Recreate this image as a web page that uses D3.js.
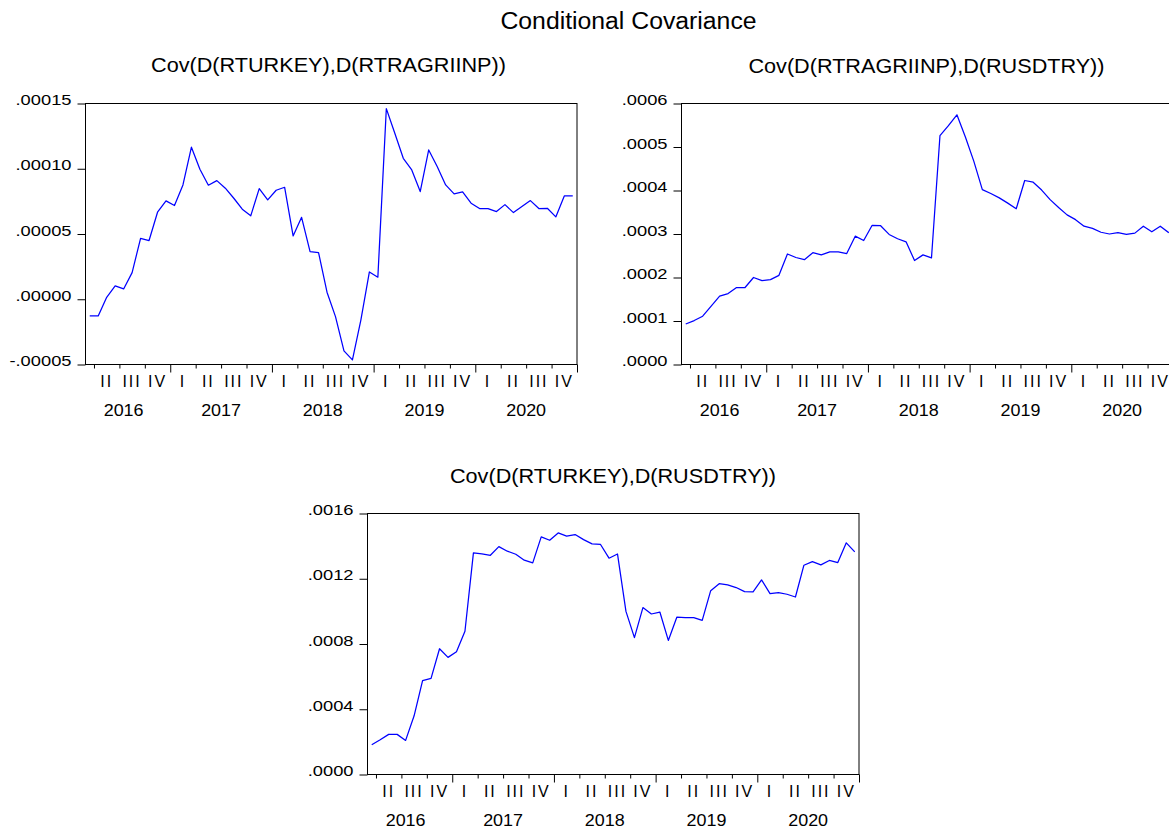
<!DOCTYPE html>
<html>
<head>
<meta charset="utf-8">
<script src="https://cdn.jsdelivr.net/npm/d3@7"></script>
<style>
  body { margin: 0; background: #fff; }
  svg { display: block; font-family: "Liberation Sans", Arial, Helvetica, sans-serif; }
</style>
</head>
<body>
<svg id="chart" width="1169" height="829"></svg>
<script>
// Monthly sample: first observation is March 2016, last is December 2020
const firstYear = 2016;
const firstMonth = 3;
const quarterNames = ["I", "II", "III", "IV"];

const mainTitle = "Conditional Covariance";
const panelTitles = [
  "Cov(D(RTURKEY),D(RTRAGRIINP))",
  "Cov(D(RTRAGRIINP),D(RUSDTRY))",
  "Cov(D(RTURKEY),D(RUSDTRY))"
];

// Conditional covariance series (one value per month)
const covTurkeyAgri = [
  -1.28e-5, -1.28e-5, 0.15e-5, 1.02e-5, 0.79e-5, 2.04e-5, 4.67e-5, 4.50e-5, 6.67e-5, 7.54e-5,
  7.18e-5, 8.76e-5, 11.65e-5, 9.96e-5, 8.74e-5, 9.09e-5, 8.51e-5, 7.74e-5, 6.90e-5, 6.39e-5,
  8.48e-5, 7.61e-5, 8.35e-5, 8.58e-5, 4.85e-5, 6.28e-5, 3.65e-5, 3.58e-5, 0.54e-5, -1.33e-5,
  -3.96e-5, -4.65e-5, -1.58e-5, 2.09e-5, 1.69e-5, 14.61e-5, 12.72e-5, 10.80e-5, 9.91e-5, 8.25e-5,
  11.44e-5, 10.17e-5, 8.76e-5, 8.07e-5, 8.22e-5, 7.36e-5, 6.95e-5, 6.95e-5, 6.72e-5, 7.25e-5,
  6.64e-5, 7.10e-5, 7.56e-5, 6.95e-5, 6.97e-5, 6.31e-5, 7.92e-5, 7.92e-5
];
const covAgriUsd = [
  0.93e-4, 1.01e-4, 1.11e-4, 1.34e-4, 1.57e-4, 1.63e-4, 1.77e-4, 1.77e-4, 2.00e-4, 1.93e-4,
  1.95e-4, 2.05e-4, 2.54e-4, 2.46e-4, 2.41e-4, 2.57e-4, 2.52e-4, 2.59e-4, 2.59e-4, 2.55e-4,
  2.95e-4, 2.85e-4, 3.20e-4, 3.19e-4, 2.99e-4, 2.89e-4, 2.82e-4, 2.39e-4, 2.52e-4, 2.45e-4,
  5.26e-4, 5.49e-4, 5.74e-4, 5.23e-4, 4.67e-4, 4.02e-4, 3.93e-4, 3.83e-4, 3.71e-4, 3.58e-4,
  4.23e-4, 4.19e-4, 4.01e-4, 3.79e-4, 3.61e-4, 3.44e-4, 3.33e-4, 3.18e-4, 3.13e-4, 3.04e-4,
  3.00e-4, 3.03e-4, 2.99e-4, 3.02e-4, 3.18e-4, 3.05e-4, 3.18e-4, 3.03e-4
];
const covTurkeyUsd = [
  1.82e-4, 2.13e-4, 2.46e-4, 2.46e-4, 2.09e-4, 3.60e-4, 5.75e-4, 5.89e-4, 7.71e-4, 7.18e-4,
  7.53e-4, 8.78e-4, 13.59e-4, 13.52e-4, 13.44e-4, 13.97e-4, 13.69e-4, 13.50e-4, 13.14e-4, 12.97e-4,
  14.57e-4, 14.36e-4, 14.81e-4, 14.61e-4, 14.71e-4, 14.40e-4, 14.14e-4, 14.10e-4, 13.26e-4, 13.52e-4,
  10.00e-4, 8.39e-4, 10.23e-4, 9.84e-4, 9.96e-4, 8.22e-4, 9.64e-4, 9.62e-4, 9.62e-4, 9.45e-4,
  11.27e-4, 11.70e-4, 11.62e-4, 11.46e-4, 11.21e-4, 11.19e-4, 11.93e-4, 11.09e-4, 11.15e-4, 11.05e-4,
  10.88e-4, 12.83e-4, 13.05e-4, 12.85e-4, 13.12e-4, 12.99e-4, 14.20e-4, 13.65e-4
];

// Value-axis ticks
const ticksTurkeyAgri = [-0.00005, 0, 0.00005, 0.00010, 0.00015];
const ticksAgriUsd = [0, 0.0001, 0.0002, 0.0003, 0.0004, 0.0005, 0.0006];
const ticksTurkeyUsd = [0, 0.0004, 0.0008, 0.0012, 0.0016];

const panels = [
  { title: panelTitles[0], values: covTurkeyAgri, ticks: ticksTurkeyAgri, digits: 5,
    left: 85.5, top: 103.5, width: 491.5, height: 261, titleX: 328.5, titleY: 71.5 },
  { title: panelTitles[1], values: covAgriUsd, ticks: ticksAgriUsd, digits: 4,
    left: 681.5, top: 103.5, width: 491.5, height: 261, titleX: 926.5, titleY: 73 },
  { title: panelTitles[2], values: covTurkeyUsd, ticks: ticksTurkeyUsd, digits: 4,
    left: 367.5, top: 513.5, width: 491.5, height: 261, titleX: 613, titleY: 483 }
];

const svg = d3.select("#chart");

// Widen text horizontally by a factor, keeping its anchor
function widen(sel, k) {
  sel.each(function () {
    const w = this.getComputedTextLength();
    d3.select(this).attr("textLength", w * k).attr("lengthAdjust", "spacingAndGlyphs");
  });
}

svg.append("text")
  .attr("x", 628.5).attr("y", 29)
  .attr("text-anchor", "middle")
  .attr("font-size", 23)
  .attr("fill", "#000")
  .text(mainTitle)
  .call(widen, 1.077);

panels.forEach(p => {
  const n = p.values.length;
  const x = d3.scaleLinear().domain([0, n]).range([p.left, p.left + p.width]);
  const y = d3.scaleLinear().domain(d3.extent(p.ticks)).range([p.top + p.height, p.top]);
  const g = svg.append("g");
  const bottom = p.top + p.height;

  // panel title
  g.append("text")
    .attr("x", p.titleX).attr("y", p.titleY)
    .attr("text-anchor", "middle")
    .attr("font-size", 21)
    .attr("fill", "#000")
    .text(p.title)
    .call(widen, 1.03);

  // value axis: plain hyphen and no leading zero, e.g. "-.00005"
  const fmt = v => d3.format("." + p.digits + "f")(v)
    .replace(/^[-\u2212]/, "-")
    .replace(/^(-?)0\./, "$1.");
  const yAxis = g.append("g")
    .attr("transform", `translate(${p.left},0)`)
    .call(d3.axisLeft(y).tickValues(p.ticks).tickSize(8).tickPadding(6).tickFormat(fmt));
  yAxis.select(".domain").remove();
  yAxis.selectAll(".tick line").attr("stroke", "#000");
  yAxis.selectAll(".tick text")
    .attr("dy", "0.07em")
    .attr("font-size", 15)
    .attr("fill", "#000")
    .call(widen, 1.22);
  yAxis.attr("font-family", null).attr("font-size", null);

  // time axis: a tick at every quarter start, longer at year starts
  const monthOf = k => (firstMonth - 1 + k) % 12;           // 0 = January
  const quarterStarts = d3.range(1, n + 1).filter(k => monthOf(k) % 3 === 0);
  const xAxis = g.append("g")
    .attr("transform", `translate(0,${bottom})`)
    .call(d3.axisBottom(x).tickValues(quarterStarts).tickSize(4).tickFormat(""));
  xAxis.select(".domain").remove();
  xAxis.selectAll(".tick line")
    .attr("stroke", "#000")
    .attr("y2", k => monthOf(k) === 0 ? 8 : 4);

  // quarter labels centred in each full quarter
  const fullQuarters = d3.range(0, n - 2).filter(k => monthOf(k) % 3 === 0);
  g.append("g").selectAll("text")
    .data(fullQuarters)
    .join("text")
    .attr("x", k => x(k + 1.5))
    .attr("y", bottom + 22.5)
    .attr("text-anchor", "middle")
    .attr("font-size", 16)
    .attr("letter-spacing", 2)
    .attr("fill", "#000")
    .text(k => quarterNames[monthOf(k) / 3]);

  // year labels
  const years = d3.range(firstYear, firstYear + Math.ceil((firstMonth - 1 + n) / 12));
  g.append("g").selectAll("text")
    .data(years)
    .join("text")
    .attr("x", yr => {
      const start = (yr - firstYear) * 12 - (firstMonth - 1);
      const from = Math.max(start, -1);
      const to = Math.min(start + 12, n);
      return x((from + to) / 2);
    })
    .attr("y", bottom + 51)
    .attr("text-anchor", "middle")
    .attr("font-size", 16)
    .attr("fill", "#000")
    .text(yr => yr)
    .call(widen, 1.12);

  // frame
  g.append("rect")
    .attr("x", p.left).attr("y", p.top)
    .attr("width", p.width).attr("height", p.height)
    .attr("fill", "none").attr("stroke", "#000").attr("stroke-width", 1);

  // series line, one point at the middle of each month
  const line = d3.line().x((d, i) => x(i + 0.5)).y(d => y(d));
  g.append("path")
    .datum(p.values)
    .attr("d", line)
    .attr("fill", "none")
    .attr("stroke", "#0000ff")
    .attr("stroke-width", 1.25)
    .attr("stroke-linejoin", "round");
});
</script>
</body>
</html>
